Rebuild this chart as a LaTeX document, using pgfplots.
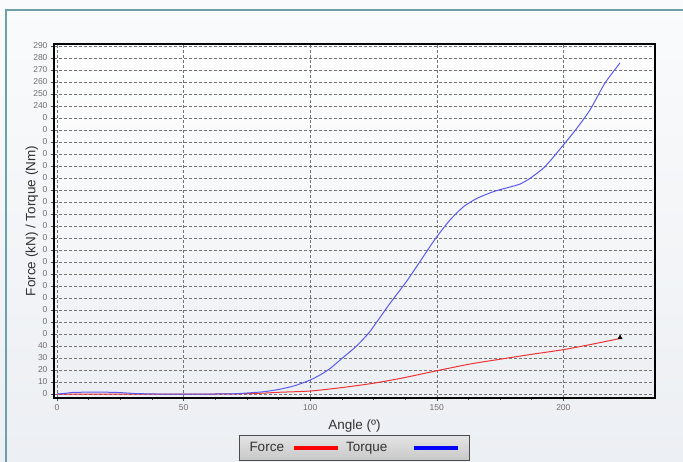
\documentclass[border=0pt]{standalone}
\usepackage{pgfplots}
\pgfplotsset{compat=1.18}
\usepackage{fontspec}
\setmainfont{Liberation Sans}
\definecolor{bgtop}{RGB}{250,251,252}
\definecolor{bgbot}{RGB}{236,239,243}
\definecolor{frameteal}{RGB}{110,160,170}
\definecolor{txt}{RGB}{50,50,50}
\definecolor{ticktxt}{RGB}{110,110,110}
\definecolor{torquec}{RGB}{90,90,240}
\definecolor{forcec}{RGB}{240,50,50}
\definecolor{legtop}{RGB}{228,228,228}
\definecolor{legbot}{RGB}{200,200,200}
\begin{document}
\begin{tikzpicture}[x=1pt,y=1pt]
\useasboundingbox (0,0) rectangle (683,462);
\shade[top color=bgtop, bottom color=bgbot] (0,0) rectangle (683,462);
\draw[frameteal, line width=1.2pt] (6,0) -- (6,452) -- (683,452);
\begin{axis}[
  at={(54pt,64pt)}, anchor=south west,
  scale only axis, width=601pt, height=354pt,
  xmin=-1.2, xmax=236.2, ymin=-3.3, ymax=291.7,
  axis background/.style={top color=white, bottom color=bgbot},
  axis line style={black, line width=1.3pt},
  xtick={0,50,100,150,200},
  minor x tick num=3,
  ytick={0,10,...,290},
  yticklabels={0,10,20,30,40,0,0,0,0,0,0,0,0,0,0,0,0,0,0,0,0,0,0,0,240,250,260,270,280,290},
  tick align=outside, xtick pos=bottom, ytick pos=left,
  major tick length=3pt, minor tick length=2pt,
  tick style={black!70, line width=0.5pt},
  ticklabel style={font=\fontsize{8.5}{9}\selectfont, text=ticktxt},
  /pgf/number format/assume math mode=true,
  grid=major,
  major grid style={dash pattern=on 3pt off 2pt, black!55, line width=0.5pt},
  xlabel={Angle (º)},
  ylabel={Force (kN) / Torque (Nm)},
  label style={font=\fontsize{13.5}{15}\selectfont, text=txt},
  xlabel style={at={(axis description cs:0.5,0)}, anchor=center, yshift=-28pt},
  ylabel style={at={(axis description cs:-0.0366,0.5)}, anchor=center},
  legend columns=2,
  legend plot pos=right,
  legend style={at={(axis description cs:0.5,0)}, anchor=north, yshift=-37pt,
    draw=black!70, line width=0.8pt, top color=legtop, bottom color=legbot,
    font=\fontsize{13.5}{15}\selectfont, text=txt,
    nodes={inner xsep=0pt},
    column sep=0pt,
    inner xsep=10pt, inner ysep=5pt},
]
\addplot[color=forcec, line width=1pt, smooth, tension=0.4,
  legend image code/.code={\draw[red, line width=3.5pt] (0pt,0pt) -- (44pt,0pt);}]
  coordinates {(0,0)(20,0)(40,0)(60,0)(75,0.3)(82,0.8)(88,1.5)(100,2.5)(113,5.5)(125,9)(136.8,13.5)(150,19.4)(163.1,25)(175,29)(188.1,33.3)(200,37)(211.8,41.7)(221.7,46)};
\addlegendentry{\makebox[43pt][l]{Force}}
\addplot[color=torquec, line width=1pt, smooth, tension=0.4,
  legend image code/.code={\draw[blue, line width=3.5pt] (0pt,0pt) -- (44pt,0pt);}]
  coordinates {(0,0)(3,0.5)(6,1.3)(10,1.5)(15,1.5)(20,1.5)(25,1.2)(30,0.5)(35,0.2)(40,0)(50,0)(60,0)(70,0.2)(76,1)(82,2)(88,4)(94,7)(100,11.7)(104,16)(108,21.5)(113,30.5)(118,39.4)(123,50.5)(126.3,60)(131.5,75.5)(138.1,94)(143.4,110.5)(149.3,129)(155.2,145)(160.5,156)(165.8,163)(172.3,168.6)(178,172)(182.9,175)(186.8,179.7)(192.7,189.4)(200,207.5)(205.3,221.4)(210.5,236.7)(216.4,259)(222.4,276)};
\addlegendentry{\makebox[72pt][l]{\hspace{6pt}Torque}}
\addplot[only marks, mark=triangle*, black, mark size=2.5pt, forget plot]
  coordinates {(222.4,47)};
\end{axis}
\end{tikzpicture}
\end{document}
